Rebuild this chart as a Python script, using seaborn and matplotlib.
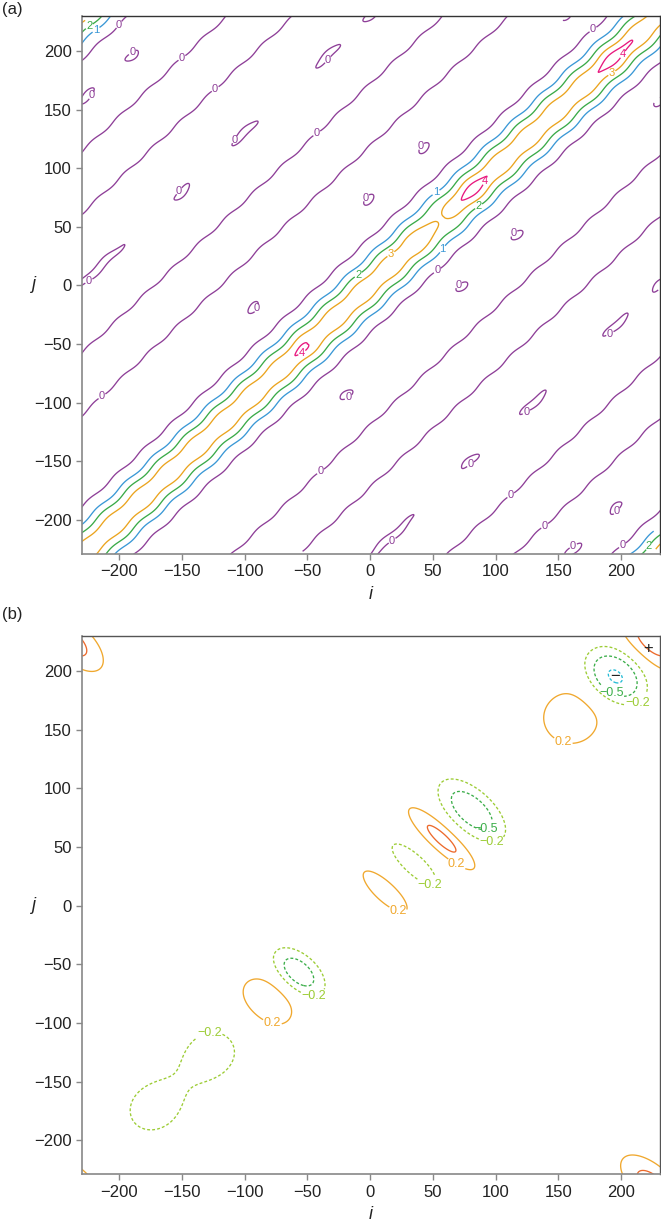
import numpy as np
import matplotlib
matplotlib.use("Agg")
import matplotlib.pyplot as plt
import seaborn as sns

# site index grid, the matrix wraps round with this period
grid_lo, grid_hi, grid_step = -232, 233, 0.5
period = 463

# (a) profile across the diagonal, |j - i| -> value
prof_d = [0, 5, 10, 19, 26, 39, 50, 62, 75, 88, 102, 119, 146, 172, 195, 215, 231.5]
prof_v = [3.8, 3.65, 3.0, 2.0, 1.0, 0.0, -0.2, -0.12, -0.03, -0.12, -0.2, 0.0, 0.3, 0.0, -0.25, -0.12, -0.03]

# (a) bumps / dips of the crest along the diagonal, u = (i + j) / 2
crest_u = [-55, 33, 57, 81, 195]
crest_amp = [0.42, 0.24, -0.8, 0.55, 0.56]
crest_su = [6, 3, 8, 11, 12]

# (a) small closed "0" islands between the stripes (u, |j - i|)
isl_u = [-56, 36, 80, 193, -100, -35, 15, 81, 116, -32, 3]
isl_d = [74, 72, 72, 70, 231, 228, 229, 228, 230, 386, 384]
isl_su = [4, 4, 4, 4, 20, 7, 11, 11, 6, 6, 5]
isl_amp = [0.08, 0.08, 0.08, 0.08, 0.07, 0.07, 0.07, 0.07, 0.07, 0.08, 0.08]

# waviness of the stripes
wig_amp, wig_len = 1.2, 22.0

levels_a = [0, 1, 2, 3, 4]
colors_a = ['#8e3f98', '#3a98d6', '#3aaa48', '#eba41e', '#e8187e']

# (b) blobs on the diagonal: centre u, amplitude, spread along / across (Euclid)
b_u = [-172, -127, -82, -57, 12, 35, 57, 81, 160, 195, 225]
b_amp = [-0.3, -0.3, 0.35, -0.8, 0.3, -0.3, 0.62, -0.85, 0.26, -1.15, 0.66]
b_spar = [22.6, 22.6, 15, 9, 9, 9, 6.5, 10, 30, 11.7, 10]
b_sperp = [19.6, 19.6, 22, 15.6, 26, 26, 24, 20, 30, 16.5, 21]

levels_b = [-0.5, -0.2, 0.2]          # labelled
colors_b = ['#3cae4a', '#9ccc34', '#f0a82e']
levels_b2 = [-1.0, 0.5]               # not labelled
colors_b2 = ['#27bcd6', '#ec6a2c']
dash = (0, (2.2, 1.6))

# (b) where the level labels sit
lab_b = [(153, 137), (192, 181), (218, 160), (92, 67), (97, 58), (66, 30),
         (47, 16), (22, -6), (-45, -78), (-78, -100), (-128, -109)]

ticks = [-200, -150, -100, -50, 0, 50, 100, 150, 200]

x = np.arange(grid_lo, grid_hi + grid_step, grid_step)
I, J = np.meshgrid(x, x)
U = (I + J) / 2
D = np.abs(J - I) + wig_amp * np.sin(2 * np.pi * U / wig_len)

# smooth periodic version of the profile
fine_d = np.arange(0, period, 0.5)
fine_v = np.interp(np.minimum(fine_d, period - fine_d), prof_d, prof_v)
kx = np.arange(-12, 12.5, 0.5)
kern = np.exp(-kx ** 2 / (2 * 3.0 ** 2))
kern /= kern.sum()
pad = len(kx) // 2
padded = np.concatenate([fine_v[-pad:], fine_v, fine_v[:pad]])
fine_s = np.convolve(padded, kern, mode='valid')

Fa = np.interp(np.mod(D, period), fine_d, fine_s, period=period)
for uc, a, su in zip(crest_u, crest_amp, crest_su):
    Fa += a * np.exp(-(U - uc) ** 2 / (2 * su ** 2) - D ** 2 / (2 * 8 ** 2))
for uc, dc, su, a in zip(isl_u, isl_d, isl_su, isl_amp):
    Fa += a * np.exp(-(U - uc) ** 2 / (2 * su ** 2) - (D - dc) ** 2 / (2 * 6 ** 2))

Fb = np.zeros_like(I)
for uc, a, sp, sq in zip(b_u, b_amp, b_spar, b_sperp):
    for si in (-period, 0, period):
        for sj in (-period, 0, period):
            di = I - (uc + si)
            dj = J - (uc + sj)
            p = (di + dj) / np.sqrt(2)
            q = (dj - di) / np.sqrt(2)
            Fb += a * np.exp(-p ** 2 / (2 * sp ** 2) - q ** 2 / (2 * sq ** 2))

sns.set_theme(style='ticks')
plt.rcParams['font.family'] = ['Liberation Sans', 'DejaVu Sans']
plt.rcParams['axes.unicode_minus'] = True

fig = plt.figure(figsize=(6.61, 12.23), dpi=100)
W, H = 661, 1223
ax_a = fig.add_axes([82 / W, 1 - 554 / H, 577.5 / W, 538.3 / H])
ax_b = fig.add_axes([82 / W, 1 - 1174.3 / H, 577.5 / W, 538.6 / H])


def minus_fmt(v):
    return f'{v:.1f}'.replace('-', '\u2212')


lims = (-229.5, 230.5, -229, 230)

cs_a = ax_a.contour(I, J, Fa, levels=levels_a, colors=colors_a, linewidths=0.95)
txt_a = ax_a.clabel(cs_a, fmt=lambda v: f'{v:.0f}', fontsize=8, inline=True, inline_spacing=1)
for t in list(txt_a):
    tx, ty = t.get_position()
    if tx < lims[0] + 5 or tx > lims[1] - 5 or ty < lims[2] + 5 or ty > lims[3] - 5:
        t.remove()
    else:
        t.set_rotation(0)

ax_b.contour(I, J, Fb, levels=levels_b2, colors=colors_b2, linewidths=0.95,
             linestyles=[dash, 'solid'])
cs_b = ax_b.contour(I, J, Fb, levels=levels_b, colors=colors_b, linewidths=0.95,
                    linestyles=[dash, dash, 'solid'])
txt_b = ax_b.clabel(cs_b, fmt=minus_fmt, fontsize=9, inline=True,
                    inline_spacing=1, manual=lab_b)
for t in txt_b:
    t.set_rotation(0)
ax_b.text(221.5, 219.5, '+', ha='center', va='center', fontsize=12, color='#222222')
ax_b.text(195, 195, '\u2212', ha='center', va='center', fontsize=12, color='#222222')

for ax, top_col in ((ax_a, '#333333'), (ax_b, '#555555')):
    ax.set_xlim(lims[0], lims[1])
    ax.set_ylim(lims[2], lims[3])
    ax.set_xticks(ticks)
    ax.set_yticks(ticks)
    ax.tick_params(labelsize=12, length=4, width=1, color='#888888', labelcolor='#222222',
                   direction='out')
    for side in ('left', 'bottom'):
        ax.spines[side].set_color('#888888')
        ax.spines[side].set_linewidth(1.2)
    for side in ('top', 'right'):
        ax.spines[side].set_color(top_col)
        ax.spines[side].set_linewidth(1.0)
    ax.set_xlabel('i', style='italic', fontsize=13, color='#222222')
    ax.set_ylabel('j', style='italic', fontsize=13, color='#222222', rotation=0)
    ax.xaxis.set_label_coords(0.5, -0.075)
    ax.yaxis.set_label_coords(-0.085, 0.5)
    ax.xaxis.label.set_va('center')
    ax.yaxis.label.set_va('center')
    ax.yaxis.label.set_ha('center')

fig.text(2 / W, 1 - 2 / H, '(a)', ha='left', va='top', fontsize=12, color='#222222')
fig.text(2 / W, 1 - 607 / H, '(b)', ha='left', va='top', fontsize=12, color='#222222')

fig.savefig('out.png', dpi=100)
